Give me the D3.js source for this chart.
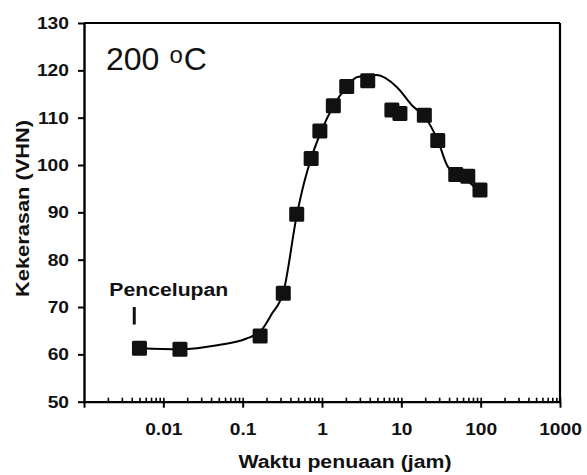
<!DOCTYPE html>
<html>
<head>
<meta charset="utf-8">
<script src="https://cdn.jsdelivr.net/npm/d3@7"></script>
<style>
  body { margin: 0; background: #fff; }
  svg { display: block; }
</style>
</head>
<body>
<svg></svg>
<script>
// Measured hardness after aging at 200 C
const ageTime = [0.005, 0.0162, 0.166, 0.325, 0.48, 0.73, 0.94, 1.39, 2.05, 3.77, 7.6, 9.6, 19.5, 28.8, 48.5, 68.8, 98];
const hardness = [61.3, 61.1, 63.9, 72.9, 89.6, 101.4, 107.2, 112.5, 116.6, 117.8, 111.6, 110.9, 110.5, 105.2, 98.0, 97.6, 94.7];

// Trend line
const fitTime = [0.005, 0.0162, 0.05, 0.11, 0.17, 0.23, 0.33, 0.48, 0.6, 0.75, 1.0, 1.4, 2.0, 2.8, 4.9, 8.75, 14.2, 19.5, 28.8, 38.7, 66.7, 98];
const fitHardness = [61.3, 61.1, 62.0, 63.3, 65.0, 68.4, 73.5, 89.3, 96.5, 102.0, 107.5, 112.5, 116.3, 118.6, 119.0, 116.5, 112.3, 110.3, 105.2, 99.6, 96.8, 94.3];

const xTicks = [0.01, 0.1, 1, 10, 100, 1000];
const yTicks = [50, 60, 70, 80, 90, 100, 110, 120, 130];
const quenchTime = 0.0043; // "Pencelupan" marker

const font = "'Liberation Sans', Arial, sans-serif";

const svg = d3.select("svg").attr("width", 587).attr("height", 475),
    margin = { top: 23, right: 27, bottom: 73.3, left: 84 },
    width = 587 - margin.left - margin.right,
    height = 475 - margin.top - margin.bottom,
    g = svg.append("g").attr("transform", `translate(${margin.left},${margin.top})`);

svg.insert("rect", ":first-child").attr("width", 587).attr("height", 475).attr("fill", "#fff");

const x = d3.scaleLog().domain([0.001, 1000]).range([0, width]);
const y = d3.scaleLinear().domain([50, 130]).range([height, 0]);

// stretch text horizontally a bit (the scanned figure is wide)
function stretch(sel, k) {
    sel.each(function() {
        const w = this.getComputedTextLength();
        d3.select(this).attr("textLength", w * k).attr("lengthAdjust", "spacingAndGlyphs");
    });
}

// minor ticks on log axis
const minors = [];
for (let e = -3; e < 3; e++) for (let m = 2; m <= 9; m++) minors.push(m * Math.pow(10, e));

// frame: top and right
g.append("line").attr("x1", 0).attr("x2", width).attr("y1", 0).attr("y2", 0)
    .attr("stroke", "#000").attr("stroke-width", 2.2);
g.append("line").attr("x1", width).attr("x2", width).attr("y1", 0).attr("y2", height)
    .attr("stroke", "#000").attr("stroke-width", 2.2);

// X axis
const xAxis = g.append("g")
    .attr("transform", `translate(0,${height})`)
    .call(d3.axisBottom(x).tickValues([0.001].concat(xTicks)).tickSizeInner(6).tickSizeOuter(0)
        .tickFormat(d => d === 0.001 ? "" : String(d)));
xAxis.select(".domain").attr("stroke-width", 2.2);
xAxis.selectAll(".tick line").attr("stroke-width", 2);
xAxis.selectAll("text").attr("dy", null).attr("y", 33.5)
    .attr("font-family", font).attr("font-weight", "bold").attr("font-size", 17).attr("fill", "#111")
    .call(stretch, 1.13);

// inward ticks (major + minor)
const xIn = g.append("g")
    .attr("transform", `translate(0,${height})`)
    .call(d3.axisTop(x).tickValues(minors.concat(xTicks)).tickSize(4).tickFormat(""));
xIn.select(".domain").remove();
xIn.selectAll(".tick line").attr("stroke-width", 1.6);

// Y axis
const yAxis = g.append("g")
    .call(d3.axisLeft(y).tickValues(yTicks).tickSizeInner(6).tickSizeOuter(0).tickPadding(9));
yAxis.select(".domain").attr("stroke-width", 2.4);
yAxis.selectAll(".tick line").attr("stroke-width", 2);
yAxis.selectAll("text")
    .attr("font-family", font).attr("font-weight", "bold").attr("font-size", 17).attr("fill", "#111")
    .call(stretch, 1.13);

// axis titles
svg.append("text")
    .attr("x", 238.5).attr("y", 468)
    .attr("font-family", font).attr("font-weight", "bold").attr("font-size", 18).attr("fill", "#111")
    .text("Waktu penuaan (jam)")
    .attr("textLength", 213).attr("lengthAdjust", "spacingAndGlyphs");

svg.append("text")
    .attr("transform", "translate(29,297) rotate(-90)")
    .attr("font-family", font).attr("font-weight", "bold").attr("font-size", 17.5).attr("fill", "#111")
    .text("Kekerasan (VHN)")
    .attr("textLength", 177).attr("lengthAdjust", "spacingAndGlyphs");

// trend line
g.append("path")
    .datum(fitTime.map((t, i) => [t, fitHardness[i]]))
    .attr("fill", "none")
    .attr("stroke", "#000")
    .attr("stroke-width", 2)
    .attr("d", d3.line().x(d => x(d[0])).y(d => y(d[1])).curve(d3.curveMonotoneX));

// markers
const s = 15;
g.selectAll(".pt")
    .data(ageTime.map((t, i) => [t, hardness[i]]))
    .join("rect")
    .attr("class", "pt")
    .attr("x", d => x(d[0]) - s / 2)
    .attr("y", d => y(d[1]) - s / 2)
    .attr("width", s).attr("height", s)
    .attr("rx", 1.5)
    .attr("fill", "#111");

// temperature label
const temp = svg.append("text")
    .attr("x", 106).attr("y", 70)
    .attr("font-family", font).attr("font-size", 32).attr("fill", "#111");
temp.append("tspan").text("200");
temp.append("tspan").attr("dx", 10).attr("dy", -7).attr("font-size", 24).text("o");
temp.append("tspan").attr("dx", 1).attr("dy", 7).text("C");

// quench annotation
svg.append("text")
    .attr("x", 109.3).attr("y", 295.7)
    .attr("font-family", font).attr("font-weight", "bold").attr("font-size", 18).attr("fill", "#111")
    .text("Pencelupan")
    .attr("textLength", 119).attr("lengthAdjust", "spacingAndGlyphs");

g.append("line")
    .attr("x1", x(quenchTime)).attr("x2", x(quenchTime))
    .attr("y1", y(70)).attr("y2", y(66.3))
    .attr("stroke", "#111").attr("stroke-width", 3);
</script>
</body>
</html>
